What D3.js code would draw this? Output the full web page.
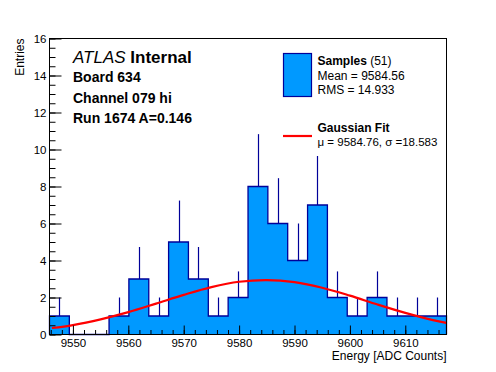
<!DOCTYPE html>
<html>
<head>
<meta charset="utf-8">
<script src="https://cdn.jsdelivr.net/npm/d3@7/dist/d3.min.js"></script>
<style>
  html, body { margin: 0; padding: 0; background: #fff; }
  svg { display: block; font-family: "Liberation Sans", Arial, Helvetica, sans-serif; }
</style>
</head>
<body>
<svg id="chart" width="496" height="372"></svg>
<script>
// ---- data ----
const binEdges = [9545.77, 9549.35, 9552.94, 9556.52, 9560.10, 9563.69, 9567.27, 9570.85,
  9574.44, 9578.02, 9581.61, 9585.19, 9588.77, 9592.36, 9595.94, 9599.52, 9603.11,
  9606.69, 9610.27, 9613.86, 9617.44];
const counts = [1, 0, 0, 1, 3, 1, 5, 3, 1, 2, 8, 6, 4, 7, 2, 1, 2, 1, 1, 1];
const upperErrors = [1, 0, 0, 1, 1.73, 1, 2.24, 1.73, 1, 1.41, 2.83, 2.45, 2, 2.65, 1.41, 1, 1.41, 1, 1, 1];
const fitX = [9546.2, 9550, 9555, 9560, 9565, 9570, 9575, 9580, 9585, 9590, 9595, 9600, 9605, 9610, 9615, 9617.4];
const fitY = [0.35, 0.51, 0.82, 1.21, 1.67, 2.14, 2.56, 2.85, 2.94, 2.83, 2.53, 2.10, 1.62, 1.17, 0.78, 0.63];
const xMajorTicks = [9550, 9560, 9570, 9580, 9590, 9600, 9610];
const xMinorTicks = d3.range(9546, 9617.5, 2);
const yMajorTicks = [0, 2, 4, 6, 8, 10, 12, 14, 16];
const yMinorTicks = d3.range(0, 16.01, 0.5);
const infoLines = ["Board 634", "Channel 079 hi", "Run 1674 A=0.146"];
const legendSamples = { title: "Samples", count: "(51)", mean: "Mean = 9584.56", rms: "RMS = 14.933" };
const legendFit = { title: "Gaussian Fit", params: "\u03bc = 9584.76, \u03c3 =18.583" };

// ---- layout ----
const L = 49.5, R = 446.5, T = 38.5, B = 334.5;
const fillCol = "#0099ff", lineCol = "#000099";

const svg = d3.select("#chart");
const x = d3.scaleLinear().domain([binEdges[0], binEdges[binEdges.length - 1]]).range([L, R]);
const y = d3.scaleLinear().domain([0, 16]).range([B, T]);

// histogram fill & outline (step)
const stepData = counts.map((c, i) => ({ x: binEdges[i], c }));
stepData.push({ x: binEdges[binEdges.length - 1], c: counts[counts.length - 1] });

svg.append("path")
  .datum(stepData)
  .attr("d", d3.area().curve(d3.curveStepAfter).x(d => x(d.x)).y0(y(0)).y1(d => y(d.c)))
  .attr("fill", fillCol);

const outline = [{ x: binEdges[0], c: 0 }].concat(stepData).concat([{ x: binEdges[binEdges.length - 1], c: 0 }]);
svg.append("path")
  .datum(outline)
  .attr("d", d3.line().curve(d3.curveStepAfter).x(d => x(d.x)).y(d => y(d.c)))
  .attr("fill", "none")
  .attr("stroke", lineCol)
  .attr("stroke-width", 1.3);

// error bars (upper part)
svg.append("g").selectAll("line")
  .data(counts.map((c, i) => ({ c, e: upperErrors[i], xc: (binEdges[i] + binEdges[i + 1]) / 2 })).filter(d => d.c > 0))
  .join("line")
  .attr("x1", d => Math.round(x(d.xc)) + 0.5)
  .attr("x2", d => Math.round(x(d.xc)) + 0.5)
  .attr("y1", d => y(d.c))
  .attr("y2", d => y(d.c + d.e))
  .attr("stroke", lineCol)
  .attr("stroke-width", 1.2);

// gaussian fit
svg.append("path")
  .datum(fitX.map((v, i) => [v, fitY[i]]))
  .attr("d", d3.line().curve(d3.curveCatmullRom).x(d => x(d[0])).y(d => y(d[1])))
  .attr("fill", "none")
  .attr("stroke", "#ff0000")
  .attr("stroke-width", 2.2);

// frame
svg.append("rect")
  .attr("x", L).attr("y", T).attr("width", R - L).attr("height", B - T)
  .attr("fill", "none").attr("stroke", "#000").attr("stroke-width", 1);

// axes
const gx = svg.append("g").attr("transform", `translate(0,${B})`);
gx.append("g").call(d3.axisBottom(x).tickValues(xMinorTicks).tickSize(-4.5).tickFormat(""));
gx.append("g").call(d3.axisBottom(x).tickValues(xMajorTicks).tickSize(-9).tickPadding(4).tickFormat(d3.format("d")));
gx.selectAll(".domain").remove();
gx.selectAll("text").attr("font-size", 11.5).attr("font-family", "Liberation Sans, Arial, sans-serif").attr("fill", "#000");

const gy = svg.append("g").attr("transform", `translate(${L},0)`);
gy.append("g").call(d3.axisLeft(y).tickValues(yMinorTicks).tickSize(-6).tickFormat(""));
gy.append("g").call(d3.axisLeft(y).tickValues(yMajorTicks).tickSize(-12).tickPadding(3).tickFormat(d3.format("d")));
gy.selectAll(".domain").remove();
gy.selectAll("text").attr("font-size", 11.5).attr("font-family", "Liberation Sans, Arial, sans-serif").attr("fill", "#000");
svg.selectAll(".tick line").attr("stroke", "#000");

// axis titles
svg.append("text")
  .attr("x", R).attr("y", 359.5)
  .attr("text-anchor", "end").attr("font-size", 12)
  .text("Energy [ADC Counts]");
svg.append("text")
  .attr("transform", `translate(23.5,${T}) rotate(-90)`)
  .attr("text-anchor", "end").attr("font-size", 12)
  .text("Entries");

// ATLAS label
const atl = svg.append("text").attr("x", 73).attr("y", 62.7).attr("font-size", 17);
atl.append("tspan").attr("font-style", "italic").text("ATLAS");
atl.append("tspan").attr("font-weight", "bold").text(" Internal");
infoLines.forEach((t, i) => {
  svg.append("text").attr("x", 73).attr("y", 82 + i * 20.7)
    .attr("font-size", 14).attr("font-weight", "bold").text(t);
});

// legend
svg.append("rect").attr("x", 283.5).attr("y", 53.5).attr("width", 28).attr("height", 43)
  .attr("fill", fillCol).attr("stroke", lineCol).attr("stroke-width", 1.2);
const ls = svg.append("text").attr("x", 317.5).attr("y", 65).attr("font-size", 12);
ls.append("tspan").attr("font-weight", "bold").text(legendSamples.title);
ls.append("tspan").text(" " + legendSamples.count);
svg.append("text").attr("x", 317.5).attr("y", 80).attr("font-size", 12).text(legendSamples.mean);
svg.append("text").attr("x", 317.5).attr("y", 93.5).attr("font-size", 12).text(legendSamples.rms);

svg.append("line").attr("x1", 283).attr("x2", 312).attr("y1", 136).attr("y2", 136)
  .attr("stroke", "#ff0000").attr("stroke-width", 2.2);
svg.append("text").attr("x", 317.5).attr("y", 132).attr("font-size", 12).attr("font-weight", "bold").text(legendFit.title);
svg.append("text").attr("x", 317.5).attr("y", 145.5).attr("font-size", 11.5).text(legendFit.params);
</script>
</body>
</html>
